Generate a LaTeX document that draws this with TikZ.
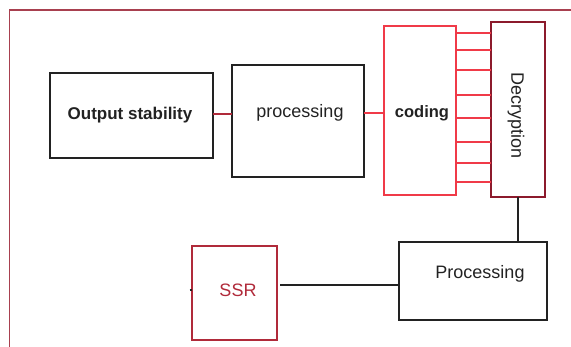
\documentclass[tikz,border=0pt]{standalone}
\usepackage{fontspec}
\setmainfont{Liberation Sans}
\definecolor{frame}{HTML}{A8404F}
\definecolor{codered}{HTML}{F03A48}
\definecolor{maroon}{HTML}{8C1A2C}
\definecolor{ssrred}{HTML}{B02A3A}
\definecolor{ink}{HTML}{222222}
\begin{document}
\begin{tikzpicture}[x=1pt,y=-1pt,
  box/.style={draw=ink,line width=1.3pt,inner sep=0pt},
  lbl/.style={font=\fontsize{18}{21}\selectfont,text=ink},
  wire/.style={line width=1.2pt}]
\useasboundingbox (0,0) rectangle (571,347);
% frame
\draw[frame,line width=1.8pt] (9.5,347) -- (9.5,10) -- (571,10);
% boxes
\draw[box] (50,73) rectangle (213,158);
\node[lbl,font=\fontsize{17}{20}\selectfont\bfseries] (os) at (130,115) {Output stability};
\coordinate (osE) at (213,114);
\draw[box] (232,65) rectangle (364,177);
\node[lbl] (proc) at (300,113) {processing};
\coordinate (procW) at (232,114);
\coordinate (procE) at (364,113);
\draw[box,draw=codered] (384,26) rectangle (456,195);
\node[lbl,font=\fontsize{16.5}{20}\selectfont\bfseries] (cod) at (422,113) {coding};
\coordinate (codW) at (384,113);
\draw[box,draw=maroon] (491,22) rectangle (545,197);
\node[lbl,rotate=-90] (dec) at (516,116) {Decryption};
\coordinate (decS) at (518,197);
\draw[box] (399,242) rectangle (547,320);
\node[lbl] (P2) at (480,274) {Processing};
\coordinate (P2N) at (518,242);
\coordinate (P2W) at (399,285);
\draw[box,draw=ssrred] (192,246) rectangle (277,340);
\node[lbl,text=ssrred] (ssr) at (238,290) {SSR};
\coordinate (ssrE) at (280,285);
\coordinate (ssrW) at (192,290);
\coordinate (stub) at (189.5,290);
% connectors
\draw[wire,draw=ssrred] (osE) -- (procW);
\draw[wire,draw=codered] (procE) -- (codW);
\foreach \y in {33,50,70,95,118,142,163,182}{
  \coordinate (a\y) at (456,\y);
  \coordinate (b\y) at (491,\y);
  \draw[wire,draw=codered] (a\y) -- (b\y);
}
\draw[wire,draw=ink] (decS) -- (P2N);
\draw[wire,draw=ink] (ssrE) -- (P2W);
\draw[wire,draw=ink] (stub) -- (ssrW);
\end{tikzpicture}
\end{document}
